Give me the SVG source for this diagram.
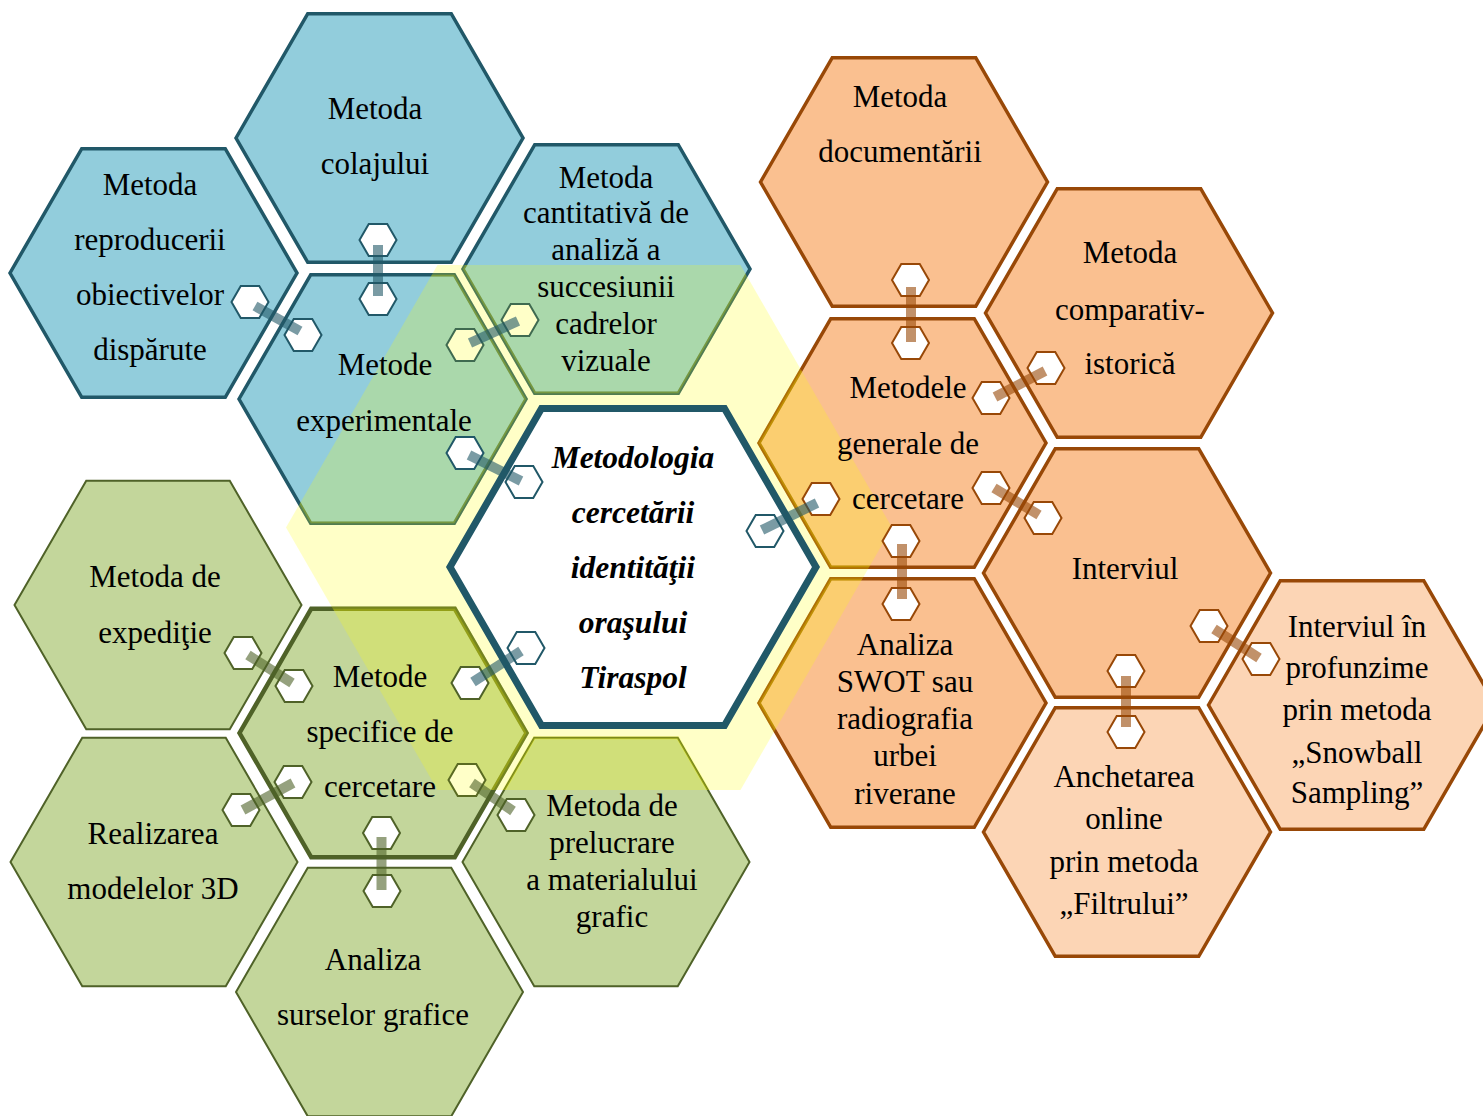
<svg xmlns="http://www.w3.org/2000/svg" xmlns:xlink="http://www.w3.org/1999/xlink" width="1483" height="1116" viewBox="0 0 1483 1116">
<defs>
<polygon id="hx" points="-143.5,0 -71.75,-124.3 71.75,-124.3 143.5,0 71.75,124.3 -71.75,124.3"/>
<polygon id="sh" points="-18.5,0 -9.25,-16 9.25,-16 18.5,0 9.25,16 -9.25,16"/>
<polygon id="ovp" points="286,527.5 437.5,265 740.5,265 892,527.5 740.5,790 437.5,790"/>
<clipPath id="ov"><use href="#ovp"/></clipPath>
<style>
.t{font-family:"Liberation Serif","Times New Roman",serif;font-size:31px;fill:#000;text-anchor:middle}
.tc{font-family:"Liberation Serif","Times New Roman",serif;font-size:31.5px;font-weight:bold;font-style:italic;fill:#000;text-anchor:middle}
.blue{fill:#92CDDC;stroke:#215868;stroke-width:3.5}
.green{fill:#C3D69B;stroke:#4F6228;stroke-width:2}
.greenb{fill:#C3D69B;stroke:#4F6228;stroke-width:4.5}
.orange{fill:#FAC090;stroke:#984807;stroke-width:3.5}
.orangel{fill:#FCD5B5;stroke:#984807;stroke-width:3.5}
.tint{fill:#FFFF00;fill-opacity:0.22;stroke:#FFFF00;stroke-opacity:0.22;stroke-width:3.5}
.sb{fill:#fff;stroke:#215868;stroke-width:2}
.sg{fill:#fff;stroke:#4F6228;stroke-width:2}
.so{fill:#fff;stroke:#984807;stroke-width:2}
.sby{fill:#FFFFC8;stroke:#3F6A50;stroke-width:2}
.sgy{fill:#FFFFC8;stroke:#5A6A22;stroke-width:2}
.bb{stroke:#215868;stroke-opacity:0.6;stroke-width:10;fill:none}
.bg{stroke:#4F6228;stroke-opacity:0.6;stroke-width:10;fill:none}
.bo{stroke:#984807;stroke-opacity:0.6;stroke-width:10;fill:none}
</style>
</defs>
<rect width="1483" height="1116" fill="#fff"/>
<g id="overlay"><use href="#ovp" fill="#FFFF00" fill-opacity="0.22"/></g>
<g id="nodes">
<g id="n-colajului"><use href="#hx" x="379.5" y="138" class="blue"/><text class="t" x="375" y="119">Metoda</text><text class="t" x="375" y="174">colajului</text></g>
<g id="n-reproducerii"><use href="#hx" x="153.5" y="273" class="blue"/><text class="t" x="150" y="195">Metoda</text><text class="t" x="150" y="250">reproducerii</text><text class="t" x="150" y="305">obiectivelor</text><text class="t" x="150" y="360">dispărute</text></g>
<g id="n-experimentale"><use href="#hx" x="382.5" y="399" class="blue"/><g clip-path="url(#ov)"><use href="#hx" x="382.5" y="399" class="tint"/></g><text class="t" x="385" y="375">Metode</text><text class="t" x="384" y="431">experimentale</text></g>
<g id="n-cantitativa"><use href="#hx" x="606.5" y="269" class="blue"/><g clip-path="url(#ov)"><use href="#hx" x="606.5" y="269" class="tint"/></g><text class="t" x="606" y="188">Metoda</text><text class="t" x="606" y="223">cantitativă de</text><text class="t" x="606" y="260">analiză a</text><text class="t" x="606" y="297">succesiunii</text><text class="t" x="606" y="334">cadrelor</text><text class="t" x="606" y="371">vizuale</text></g>
<g id="n-expeditie"><use href="#hx" x="158" y="605" class="green"/><text class="t" x="155" y="587">Metoda de</text><text class="t" x="155" y="643">expediţie</text></g>
<g id="n-realizarea"><use href="#hx" x="154" y="862" class="green"/><text class="t" x="153" y="844">Realizarea</text><text class="t" x="153" y="899">modelelor 3D</text></g>
<g id="n-surselor"><use href="#hx" x="379.5" y="992" class="green"/><text class="t" x="373" y="970">Analiza</text><text class="t" x="373" y="1025">surselor grafice</text></g>
<g id="n-prelucrare"><use href="#hx" x="606" y="862" class="green"/><g clip-path="url(#ov)"><use href="#hx" x="606" y="862" class="tint"/></g><text class="t" x="612" y="816">Metoda de</text><text class="t" x="612" y="853">prelucrare</text><text class="t" x="612" y="890">a materialului</text><text class="t" x="612" y="927">grafic</text></g>
<g id="n-specifice"><use href="#hx" x="383" y="733" class="greenb"/><g clip-path="url(#ov)"><use href="#hx" x="383" y="733" class="tint" style="stroke-width:4.5"/></g><text class="t" x="380" y="687">Metode</text><text class="t" x="380" y="742">specifice de</text><text class="t" x="380" y="797">cercetare</text></g>
<g id="n-documentarii"><use href="#hx" x="904" y="182" class="orange"/><text class="t" x="900" y="107">Metoda</text><text class="t" x="900" y="162">documentării</text></g>
<g id="n-comparativ"><use href="#hx" x="1129" y="313" class="orange"/><text class="t" x="1130" y="263">Metoda</text><text class="t" x="1130" y="320">comparativ-</text><text class="t" x="1130" y="374">istorică</text></g>
<g id="n-generale"><use href="#hx" x="902.5" y="443" class="orange"/><g clip-path="url(#ov)"><use href="#hx" x="902.5" y="443" class="tint"/></g><text class="t" x="908" y="398">Metodele</text><text class="t" x="908" y="454">generale de</text><text class="t" x="908" y="509">cercetare</text></g>
<g id="n-interviul"><use href="#hx" x="1127" y="573" class="orange"/><text class="t" x="1125" y="579">Interviul</text></g>
<g id="n-swot"><use href="#hx" x="902.5" y="703" class="orange"/><g clip-path="url(#ov)"><use href="#hx" x="902.5" y="703" class="tint"/></g><text class="t" x="905" y="655">Analiza</text><text class="t" x="905" y="692">SWOT sau</text><text class="t" x="905" y="729">radiografia</text><text class="t" x="905" y="766">urbei</text><text class="t" x="905" y="804">riverane</text></g>
<g id="n-anchetarea"><use href="#hx" x="1127" y="832" class="orangel"/><text class="t" x="1124" y="787">Anchetarea</text><text class="t" x="1124" y="829">online</text><text class="t" x="1124" y="872">prin metoda</text><text class="t" x="1124" y="914">„Filtrului”</text></g>
<g id="n-profunzime"><use href="#hx" x="1352" y="705" class="orangel"/><text class="t" x="1357" y="637">Interviul în</text><text class="t" x="1357" y="678">profunzime</text><text class="t" x="1357" y="720">prin metoda</text><text class="t" x="1357" y="763">„Snowball</text><text class="t" x="1357" y="803">Sampling”</text></g>
</g>
<g id="n-center"><polygon points="450,567 541.5,408.5 724.5,408.5 816,567 724.5,725.5 541.5,725.5" fill="#fff" stroke="#215868" stroke-width="7"/>
<text class="tc" x="633" y="468">Metodologia</text><text class="tc" x="633" y="523">cercetării</text><text class="tc" x="633" y="578">identităţii</text><text class="tc" x="633" y="633">oraşului</text><text class="tc" x="633" y="688">Tiraspol</text></g>
<g id="connectors">
<g><use href="#sh" x="378" y="240" class="sb"/><use href="#sh" x="378" y="299" class="sb"/><line class="bb" x1="378" y1="245" x2="378" y2="296"/></g>
<g><use href="#sh" x="250" y="302" class="sb"/><use href="#sh" x="303" y="335" class="sb"/><line class="bb" x1="255" y1="306" x2="300" y2="331"/></g>
<g><use href="#sh" x="465" y="345" class="sby"/><use href="#sh" x="520" y="320" class="sby"/><line class="bb" x1="470" y1="343" x2="518" y2="321"/></g>
<g><use href="#sh" x="465" y="453" class="sb"/><use href="#sh" x="524" y="482" class="sb"/><line class="bb" x1="469" y1="455" x2="521" y2="481"/></g>
<g><use href="#sh" x="470" y="683" class="sg"/><use href="#sh" x="526" y="648" class="sb"/><line class="bb" x1="473" y1="682" x2="521" y2="651"/></g>
<g><use href="#sh" x="243" y="653" class="sg"/><use href="#sh" x="294" y="686" class="sg"/><line class="bg" x1="248" y1="655" x2="292" y2="683"/></g>
<g><use href="#sh" x="241" y="810" class="sg"/><use href="#sh" x="293" y="782" class="sg"/><line class="bg" x1="243" y1="810" x2="293" y2="783"/></g>
<g><use href="#sh" x="381.5" y="833" class="sg"/><use href="#sh" x="382" y="891" class="sg"/><line class="bg" x1="381.5" y1="837" x2="381.5" y2="890"/></g>
<g><use href="#sh" x="467" y="780" class="sgy"/><use href="#sh" x="516" y="815" class="sg"/><line class="bg" x1="472" y1="783" x2="513" y2="811"/></g>
<g><use href="#sh" x="910.5" y="280" class="so"/><use href="#sh" x="910.5" y="343" class="so"/><line class="bo" x1="911" y1="287" x2="911" y2="342"/></g>
<g><use href="#sh" x="991" y="398" class="so"/><use href="#sh" x="1046" y="368" class="so"/><line class="bo" x1="995" y1="397" x2="1045" y2="371"/></g>
<g><use href="#sh" x="765" y="531" class="sb"/><use href="#sh" x="821" y="499" class="so"/><line class="bb" x1="762" y1="530" x2="817" y2="503"/></g>
<g><use href="#sh" x="991" y="488" class="so"/><use href="#sh" x="1043" y="518" class="so"/><line class="bo" x1="994" y1="488" x2="1039" y2="515"/></g>
<g><use href="#sh" x="901" y="541" class="so"/><use href="#sh" x="901" y="604" class="so"/><line class="bo" x1="902" y1="544" x2="902" y2="599"/></g>
<g><use href="#sh" x="1126" y="671" class="so"/><use href="#sh" x="1126" y="732" class="so"/><line class="bo" x1="1126" y1="676" x2="1126" y2="727"/></g>
<g><use href="#sh" x="1209" y="626" class="so"/><use href="#sh" x="1261" y="659" class="so"/><line class="bo" x1="1214" y1="629" x2="1259" y2="658"/></g>
</g>
</svg>
